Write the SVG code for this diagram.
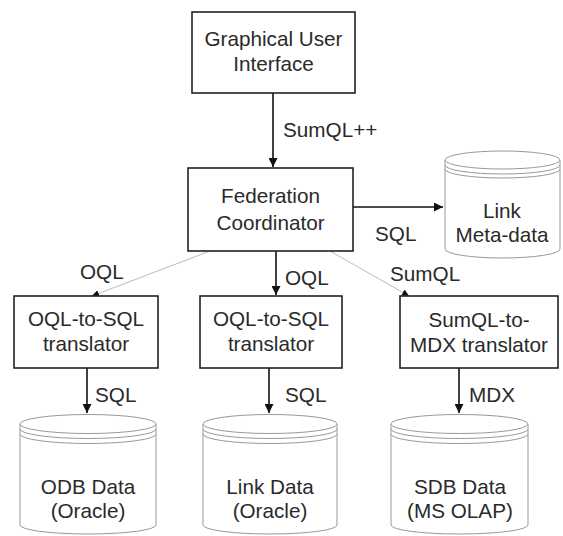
<svg xmlns="http://www.w3.org/2000/svg" width="563" height="536" viewBox="0 0 563 536">
<defs>
<marker id="arr" viewBox="0 0 10 10" refX="10" refY="5" markerWidth="10" markerHeight="9" markerUnits="userSpaceOnUse" orient="auto">
<path d="M0,0 L10,5 L0,10 Z" fill="#111"/>
</marker>
<marker id="arrs" viewBox="0 0 10 10" refX="10" refY="5" markerWidth="7" markerHeight="7" markerUnits="userSpaceOnUse" orient="auto">
<path d="M0,0 L10,5 L0,10 Z" fill="#111"/>
</marker>
</defs>
<style>
.box{fill:#fff;stroke:#222;stroke-width:1.6}
.cyl{fill:#fff;stroke:#999;stroke-width:1}
.t{font-family:"Liberation Sans",Arial,sans-serif;font-size:20.7px;fill:#2a2a2a}
.c{text-anchor:middle}
.e{stroke:#111;stroke-width:1.6;fill:none}
.g{stroke:#bbb;stroke-width:1;fill:none}
</style>
<rect width="563" height="536" fill="#fff"/>
<g id="connectors">
<line class="e" x1="273" y1="93" x2="273" y2="167" marker-end="url(#arr)"/>
<line class="e" x1="353" y1="207" x2="443" y2="207" marker-end="url(#arr)"/>
<line class="g" x1="210" y1="251" x2="92" y2="296" marker-end="url(#arrs)"/>
<line class="e" x1="276" y1="251" x2="276" y2="295" marker-end="url(#arr)"/>
<line class="g" x1="330" y1="251" x2="409" y2="296" marker-end="url(#arrs)"/>
<line class="e" x1="87" y1="368" x2="87" y2="413" marker-end="url(#arr)"/>
<line class="e" x1="269" y1="368" x2="269" y2="413" marker-end="url(#arr)"/>
<line class="e" x1="459" y1="368" x2="459" y2="413" marker-end="url(#arr)"/>
<text class="t" x="283" y="137">SumQL++</text>
<text class="t" x="375" y="241">SQL</text>
<text class="t" x="80" y="279">OQL</text>
<text class="t" x="285" y="285">OQL</text>
<text class="t" x="390" y="281">SumQL</text>
<text class="t" x="95" y="402">SQL</text>
<text class="t" x="285" y="402">SQL</text>
<text class="t" x="469" y="402">MDX</text>
</g>
<g id="gui">
<rect class="box" x="192" y="12" width="163" height="81"/>
<text class="t c" x="273.5" y="46">Graphical User</text>
<text class="t c" x="273.5" y="71">Interface</text>
</g>
<g id="fc">
<rect class="box" x="188" y="168" width="165" height="83"/>
<text class="t c" x="270.5" y="203">Federation</text>
<text class="t c" x="270.5" y="230">Coordinator</text>
</g>
<g id="linkmeta">
<path class="cyl" d="M445,160 A57.5,9 0 0 1 560,160 L560,249 A57.5,9 0 0 1 445,249 Z"/>
<path class="cyl" d="M445,160 A57.5,9 0 0 0 560,160 M445,165 A57.5,9 0 0 0 560,165 M445,169 A57.5,9 0 0 0 560,169"/>
<text class="t c" x="502" y="218">Link</text>
<text class="t c" x="502" y="242">Meta-data</text>
</g>
<g id="oql1">
<rect class="box" x="14" y="296" width="144" height="72"/>
<text class="t c" x="86" y="326">OQL-to-SQL</text>
<text class="t c" x="86" y="351">translator</text>
</g>
<g id="oql2">
<rect class="box" x="200" y="296" width="142" height="72"/>
<text class="t c" x="271" y="326">OQL-to-SQL</text>
<text class="t c" x="271" y="351">translator</text>
</g>
<g id="sumql">
<rect class="box" x="400" y="296" width="158" height="72"/>
<text class="t c" x="479" y="327">SumQL-to-</text>
<text class="t c" x="479" y="352">MDX translator</text>
</g>
<g id="odb">
<path class="cyl" d="M20,424 A68,9.5 0 0 1 156,424 L156,525 A68,9 0 0 1 20,525 Z"/>
<path class="cyl" d="M20,424 A68,9.5 0 0 0 156,424 M20,429 A68,9.5 0 0 0 156,429 M20,434 A68,9.5 0 0 0 156,434"/>
<text class="t c" x="88" y="494">ODB Data</text>
<text class="t c" x="88" y="518">(Oracle)</text>
</g>
<g id="linkdata">
<path class="cyl" d="M203,424 A67,9.5 0 0 1 337,424 L337,525 A67,9 0 0 1 203,525 Z"/>
<path class="cyl" d="M203,424 A67,9.5 0 0 0 337,424 M203,429 A67,9.5 0 0 0 337,429 M203,434 A67,9.5 0 0 0 337,434"/>
<text class="t c" x="270" y="494">Link Data</text>
<text class="t c" x="270" y="518">(Oracle)</text>
</g>
<g id="sdb">
<path class="cyl" d="M391,424 A68.5,9.5 0 0 1 528,424 L528,525 A68.5,9 0 0 1 391,525 Z"/>
<path class="cyl" d="M391,424 A68.5,9.5 0 0 0 528,424 M391,429 A68.5,9.5 0 0 0 528,429 M391,434 A68.5,9.5 0 0 0 528,434"/>
<text class="t c" x="460" y="494">SDB Data</text>
<text class="t c" x="460" y="518">(MS OLAP)</text>
</g>
</svg>
